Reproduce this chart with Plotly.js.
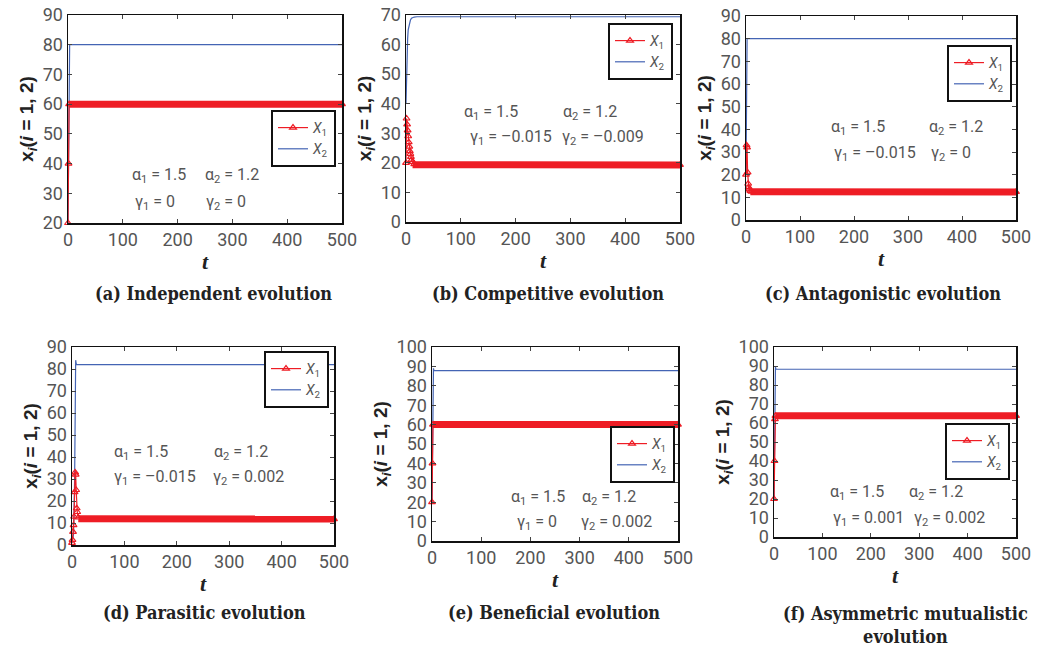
<!DOCTYPE html>
<html>
<head>
<meta charset="utf-8">
<script src="https://cdn.plot.ly/plotly-3.0.1.min.js"></script>
<style>html,body{margin:0;padding:0;background:#fff}#chart{width:1048px;height:652px}</style>
</head>
<body>
<div id="chart"></div>
<script>
// ---------------- DATA ----------------
const xTicks = [0, 100, 200, 300, 400, 500];
const yTicks90from20 = [20, 30, 40, 50, 60, 70, 80, 90];
const yTicks70 = [0, 10, 20, 30, 40, 50, 60, 70];
const yTicks90 = [0, 10, 20, 30, 40, 50, 60, 70, 80, 90];
const yTicks100 = [0, 10, 20, 30, 40, 50, 60, 70, 80, 90, 100];

// (a) Independent evolution
const aT1 = [0, 1, 2, 500];
const aX1 = [20, 40, 60, 60];
const aBandT = [2, 500];
const aBandX = [60, 60];
const aT2 = [0, 1, 2, 3, 500];
const aX2 = [20, 40, 60, 80, 80];

// (b) Competitive evolution
const bT1 = [0, 1, 2, 3, 4, 5, 6, 7, 8, 9, 10, 12, 15, 500];
const bX1 = [20, 35, 33, 31, 29, 27, 25.5, 24, 23, 22, 21, 20.3, 19.6, 19.3];
const bBandT = [12, 500];
const bBandX = [19.4, 19.3];
const bT2 = [0, 1, 2, 3, 4, 6, 8, 10, 15, 20, 500];
const bX2 = [40, 52, 58, 62, 65, 67, 68.2, 68.9, 69.3, 69.4, 69.4];

// (c) Antagonistic evolution
const cT1 = [0, 1, 2, 3, 4, 5, 6, 8, 10, 500];
const cX1 = [20, 33, 32, 21, 16, 14.5, 13.5, 12.8, 12.5, 12.4];
const cBandT = [8, 500];
const cBandX = [12.5, 12.4];
const cT2 = [0, 1, 2, 500];
const cX2 = [20, 60, 80, 80];

// (d) Parasitic evolution
const dT1 = [0, 1, 2, 3, 4, 5, 6, 7, 8, 9, 10, 12, 500];
const dX1 = [1, 2.3, 6, 9, 12.9, 24, 33, 32, 25, 16.7, 15, 12.5, 11.8];
const dBandT = [12, 500];
const dBandX = [11.9, 11.8];
const dT2 = [0, 3, 5, 6, 7, 8, 9, 500];
const dX2 = [1, 5, 30, 60, 84, 82.5, 82, 82];

// (e) Beneficial evolution
const eT1 = [0, 1, 2, 500];
const eX1 = [20, 40, 60, 60];
const eBandT = [2, 500];
const eBandX = [60, 60];
const eT2 = [0, 1, 2, 3, 4, 500];
const eX2 = [20, 40, 60, 89, 87.8, 87.8];

// (f) Asymmetric mutualistic evolution
const fT1 = [0, 1, 2, 3, 500];
const fX1 = [20, 40, 62, 63.8, 63.8];
const fBandT = [3, 500];
const fBandX = [63.8, 63.8];
const fT2 = [0, 1, 2, 3, 4, 500];
const fX2 = [20, 40, 62, 89.5, 88.3, 88.3];

const captions = [
  "(a) Independent evolution",
  "(b) Competitive evolution",
  "(c) Antagonistic evolution",
  "(d) Parasitic evolution",
  "(e) Beneficial evolution",
  "(f) Asymmetric mutualistic<br>evolution"
];
const paramsA = ["α<sub>1</sub> = 1.5", "α<sub>2</sub> = 1.2", "γ<sub>1</sub> = 0", "γ<sub>2</sub> = 0"];
const paramsB = ["α<sub>1</sub> = 1.5", "α<sub>2</sub> = 1.2", "γ<sub>1</sub> = –0.015", "γ<sub>2</sub> = –0.009"];
const paramsC = ["α<sub>1</sub> = 1.5", "α<sub>2</sub> = 1.2", "γ<sub>1</sub> = –0.015", "γ<sub>2</sub> = 0"];
const paramsD = ["α<sub>1</sub> = 1.5", "α<sub>2</sub> = 1.2", "γ<sub>1</sub> = –0.015", "γ<sub>2</sub> = 0.002"];
const paramsE = ["α<sub>1</sub> = 1.5", "α<sub>2</sub> = 1.2", "γ<sub>1</sub> = 0", "γ<sub>2</sub> = 0.002"];
const paramsF = ["α<sub>1</sub> = 1.5", "α<sub>2</sub> = 1.2", "γ<sub>1</sub> = 0.001", "γ<sub>2</sub> = 0.002"];
const seriesNames = ["<i>X</i><sub>1</sub>", "<i>X</i><sub>2</sub>"];
const yTitle = "<b>x<sub><i>i</i></sub>(<i>i</i> = 1, 2)</b>";
const xTitle = "<b><i>t</i></b>";

// ---------------- LAYOUT HELPERS ----------------
const W = 1048, H = 652;
const px = x => x / W;
const py = y => 1 - y / H;
const RED = "#ee1d25", BLUE = "#4464b4";
const TICKFONT = {family: "Roboto, sans-serif", size: 18, color: "#555"};
const PARAMFONT = {family: "Roboto, sans-serif", size: 16, color: "#555"};
const CAPFONT = {family: "'DejaVu Serif Condensed', 'DejaVu Serif', serif", size: 18, color: "#222"};

const panels = [
  {t1: aT1, x1: aX1, bt: aBandT, bx: aBandX, t2: aT2, x2: aX2, yt: yTicks90from20, yr: [20, 90],
   box: [68, 342, 15, 223], leg: [336, 110], params: paramsA, pp: [[130,175],[203,175],[133,202],[204,202]], cap: [213, 293]},
  {t1: bT1, x1: bX1, bt: bBandT, bx: bBandX, t2: bT2, x2: bX2, yt: yTicks70, yr: [0, 70],
   box: [406, 680, 15, 222], leg: [673, 23], params: paramsB, pp: [[462,112],[561,112],[468,137],[560,137]], cap: [548, 293]},
  {t1: cT1, x1: cX1, bt: cBandT, bx: cBandX, t2: cT2, x2: cX2, yt: yTicks90, yr: [0, 90],
   box: [746, 1016, 16, 220], leg: [1012, 45], params: paramsC, pp: [[829,128],[927,128],[832,154],[929,154]], cap: [883, 293]},
  {t1: dT1, x1: dX1, bt: dBandT, bx: dBandX, t2: dT2, x2: dX2, yt: yTicks90, yr: [0, 90],
   box: [72, 334, 347, 545], leg: [329, 351], params: paramsD, pp: [[112,452],[212,452],[112,477],[211,477]], cap: [204, 612]},
  {t1: eT1, x1: eX1, bt: eBandT, bx: eBandX, t2: eT2, x2: eX2, yt: yTicks100, yr: [0, 100],
   box: [432, 678, 347, 541], leg: [675, 426], params: paramsE, pp: [[509,497],[580,497],[515,522],[579,522]], cap: [554, 612]},
  {t1: fT1, x1: fX1, bt: fBandT, bx: fBandX, t2: fT2, x2: fX2, yt: yTicks100, yr: [0, 100],
   box: [774, 1016, 347, 537], leg: [1010, 423], params: paramsF, pp: [[828,492],[907,492],[831,518],[912,518]], cap: [905, 625]}
];

const data = [];
const layout = {
  width: W, height: H,
  margin: {l: 0, r: 0, t: 0, b: 0},
  paper_bgcolor: "#fff", plot_bgcolor: "#fff",
  showlegend: true,
  annotations: []
};

panels.forEach((p, i) => {
  const n = i + 1;
  const xa = "xaxis" + (n === 1 ? "" : n), ya = "yaxis" + (n === 1 ? "" : n);
  const xr = "x" + (n === 1 ? "" : n), yr = "y" + (n === 1 ? "" : n);
  const lg = "legend" + (n === 1 ? "" : n);
  // X2 (blue)
  data.push({x: p.t2, y: p.x2, xaxis: xr, yaxis: yr, mode: "lines", name: seriesNames[1],
    line: {color: BLUE, width: 1.2}, legend: lg, legendrank: 2});
  // X1 settled band (dense triangle markers in the original)
  data.push({x: p.bt, y: p.bx, xaxis: xr, yaxis: yr, mode: "lines", showlegend: false,
    line: {color: RED, width: 7}, hoverinfo: "skip"});
  // X1 (red with triangles)
  data.push({x: p.t1, y: p.x1, xaxis: xr, yaxis: yr, mode: "lines+markers", name: seriesNames[0],
    line: {color: RED, width: 1.2}, marker: {symbol: "triangle-up-open", size: 6, color: RED, line: {width: 1.2, color: RED}},
    legend: lg, legendrank: 1, cliponaxis: false});

  const axBase = {showline: true, mirror: "ticks", linecolor: "#111", linewidth: 1.5,
    ticks: "inside", ticklen: 4, tickcolor: "#444", showgrid: false, zeroline: false, tickfont: TICKFONT};
  layout[xa] = Object.assign({}, axBase, {
    domain: [px(p.box[0]), px(p.box[1])], anchor: yr, range: [0, 500], tickvals: xTicks,
    title: {text: xTitle, font: {family: "'Liberation Serif', serif", size: 22, color: "#222"}, standoff: 4}
  });
  layout[ya] = Object.assign({}, axBase, {
    domain: [py(p.box[3]), py(p.box[2])], anchor: xr, range: p.yr, tickvals: p.yt,
    title: {text: yTitle, font: {family: "'Liberation Sans', sans-serif", size: 19, color: "#222"}, standoff: 4}
  });
  layout[lg] = {x: px(p.leg[0]), y: py(p.leg[1]), xanchor: "right", yanchor: "top",
    bgcolor: "#fff", bordercolor: "#111", borderwidth: 2, itemwidth: 30, tracegroupgap: 0,
    font: {family: "Roboto, sans-serif", size: 14, color: "#555"}};
  p.params.forEach((txt, k) => {
    layout.annotations.push({xref: "paper", yref: "paper", x: px(p.pp[k][0]), y: py(p.pp[k][1]),
      xanchor: "left", yanchor: "middle", text: txt, showarrow: false, font: PARAMFONT});
  });
  layout.annotations.push({xref: "paper", yref: "paper", x: px(p.cap[0]), y: py(p.cap[1]),
    xanchor: "center", yanchor: "middle", text: "<b>" + captions[i] + "</b>", showarrow: false, font: CAPFONT});
});

Plotly.newPlot("chart", data, layout, {staticPlot: true});
</script>
</body>
</html>
